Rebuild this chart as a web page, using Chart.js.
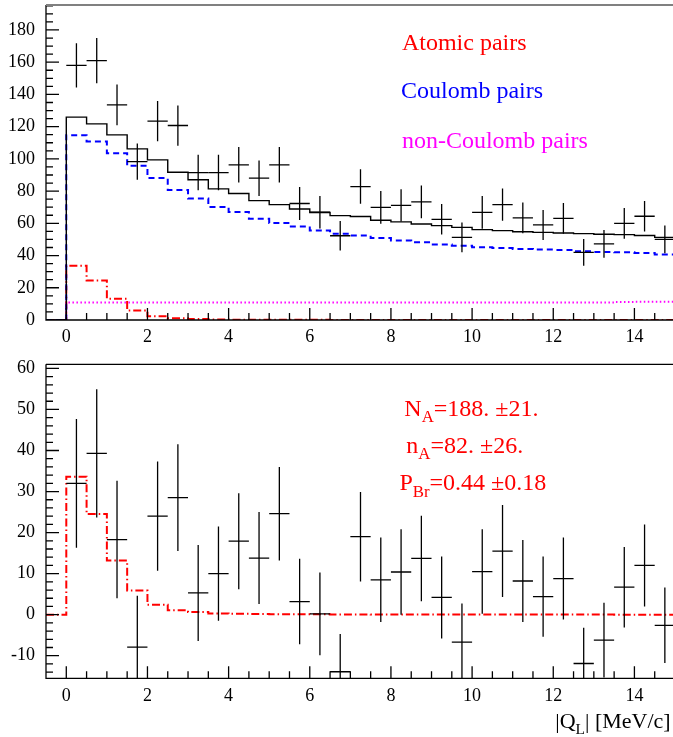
<!DOCTYPE html>
<html>
<head>
<meta charset="utf-8">
<script src="https://cdn.jsdelivr.net/npm/chart.js@4/dist/chart.umd.min.js"></script>
<style>
  html, body { margin: 0; padding: 0; background: #fff; overflow: hidden; }
  #top { position: absolute; left: 0; top: 0; }
  #bottom { position: absolute; left: 0; top: 340px; }
</style>
</head>
<body>
<canvas id="top" width="675" height="360"></canvas>
<canvas id="bottom" width="675" height="397"></canvas>
<script>
// bins of |Q_L| (MeV/c), width 0.5
const binCenters = [0.25, 0.75, 1.25, 1.75, 2.25, 2.75, 3.25, 3.75, 4.25, 4.75,
                    5.25, 5.75, 6.25, 6.75, 7.25, 7.75, 8.25, 8.75, 9.25, 9.75,
                    10.25, 10.75, 11.25, 11.75, 12.25, 12.75, 13.25, 13.75, 14.25, 14.75];
const binWidth = 0.5;

// top panel: measured pairs and fitted components
const dataCounts = [158, 161, 133.5, 98.3, 123.4, 120.7, 91.5, 91.5, 96.3, 88,
                    96.3, 72.3, 66.9, 52.3, 82.8, 69.9, 71.2, 73.3, 62.5, 51.3,
                    66.8, 71.6, 63.4, 59, 63.1, 42, 47.2, 60, 64.4, 50];
const dataErrors = [13.7, 14, 12.7, 11.2, 12.5, 12.5, 11, 11, 11, 11,
                    11, 10.2, 10.1, 9.2, 10.7, 10.1, 10, 10.2, 9.5, 9.2,
                    10.1, 10, 9.5, 9.3, 9.5, 8.3, 8.6, 9.5, 9.5, 8.6];
const total = [125.9, 121.7, 114.9, 106.2, 99.4, 91.7, 87, 81.4, 78.5, 74.1,
               71.6, 68.9, 66.7, 64.8, 64.2, 61.9, 60.9, 59.6, 58.6, 57.5,
               56.1, 55.5, 54.8, 54.4, 54.0, 53.6, 53.2, 53.0, 52.4, 51.3];
const coulomb = [114.7, 110.8, 103.5, 95.7, 88.2, 80.7, 75.4, 70.2, 67.1, 62.9,
                 60.2, 58, 55.5, 53.6, 52.4, 50.9, 49.3, 48.2, 46.8, 46.1,
                 45.1, 44.7, 44.1, 43.7, 43.5, 42.6, 42.2, 42.0, 41.6, 40.6];
const nonCoulomb = [10.9, 10.9, 10.9, 10.9, 10.9, 10.9, 10.9, 10.9, 10.9, 10.9,
                    10.9, 10.9, 10.9, 10.9, 10.9, 10.9, 10.9, 10.9, 10.9, 10.9,
                    10.9, 10.9, 10.9, 10.9, 10.9, 10.9, 10.9, 11.2, 11.3, 11.3];
const atomic = [33.6, 24.5, 13.2, 5.9, 2.4, 1.1, 0.65, 0.3, 0.2, 0.15,
                0.1, 0.1, 0.08, 0.07, 0.06, 0.05, 0.05, 0.04, 0.04, 0.03,
                0.03, 0.03, 0.02, 0.02, 0.02, 0.02, 0.02, 0.01, 0.01, 0.01];

// bottom panel: data minus background
const resid = [32, 39.3, 18.3, -7.9, 24, 28.5, 5.3, 10, 17.9, 13.8,
               24.6, 3.2, 0.2, -13.9, 19, 8.5, 10.4, 13.7, 4.2, -6.7,
               10.5, 15.5, 8.2, 4.4, 8.8, -11.9, -6.2, 6.7, 12, -2.6];
const residErr = [15.7, 15.6, 14.3, 12.5, 13.3, 13, 11.7, 11.5, 11.7, 11.2,
                  11.4, 10.4, 10.1, 9.2, 10.9, 10.3, 10.4, 10.4, 10, 9.4,
                  10.3, 11.2, 10, 9.8, 10, 8.7, 9.1, 9.8, 10, 9.2];

const xTickLabels = [0, 2, 4, 6, 8, 10, 12, 14];
const yTopTickLabels = [0, 20, 40, 60, 80, 100, 120, 140, 160, 180];
const yBottomTickLabels = [-10, 0, 10, 20, 30, 40, 50, 60];

const legendTexts = ["Atomic pairs", "Coulomb pairs", "non-Coulomb pairs"];
const fitTexts = [
  [{t: "N"}, {t: "A", sub: true}, {t: "=188. \u00b121."}],
  [{t: "n"}, {t: "A", sub: true}, {t: "=82. \u00b126."}],
  [{t: "P"}, {t: "Br", sub: true}, {t: "=0.44 \u00b10.18"}]
];
const axisTitle = [{t: "|Q"}, {t: "L", sub: true}, {t: "| [MeV/c]"}];

const FONT = "'Liberation Serif', 'Times New Roman', serif";

// histogram outline: points at bin low edges, stepped
function histPoints(values) {
  const pts = [{x: -0.5, y: 0}];
  values.forEach((v, i) => pts.push({x: binCenters[i] - binWidth / 2, y: v}));
  pts.push({x: binCenters[binCenters.length - 1] + binWidth / 2, y: values[values.length - 1]});
  return pts;
}

function histSet(values, color, width, dash) {
  return {
    data: histPoints(values),
    borderColor: color,
    borderWidth: width,
    borderDash: dash,
    stepped: true,
    fill: false,
    pointRadius: 0,
    tension: 0
  };
}

function drawRich(ctx, x, y, parts, size, color) {
  ctx.fillStyle = color;
  ctx.textAlign = "left";
  ctx.textBaseline = "alphabetic";
  let cx = x;
  parts.forEach(p => {
    const s = p.sub ? size * 0.7 : size;
    ctx.font = s + "px " + FONT;
    ctx.fillText(p.t, cx, p.sub ? y + size * 0.28 : y);
    cx += ctx.measureText(p.t).width;
  });
}

// crosses: bin-wide horizontal bar + vertical error
const errorBars = {
  id: "errbars",
  afterDatasetsDraw(chart, args, opts) {
    const {ctx, chartArea: a, scales: {x, y}} = chart;
    ctx.save();
    ctx.beginPath();
    ctx.rect(a.left, a.top, a.right - a.left, a.bottom - a.top);
    ctx.clip();
    ctx.strokeStyle = "#000";
    ctx.lineWidth = 1.3;
    opts.values.forEach((v, i) => {
      const c = binCenters[i];
      const px = x.getPixelForValue(c), py = y.getPixelForValue(v);
      ctx.beginPath();
      ctx.moveTo(x.getPixelForValue(c - binWidth / 2), py);
      ctx.lineTo(x.getPixelForValue(c + binWidth / 2), py);
      ctx.moveTo(px, y.getPixelForValue(v + opts.errors[i]));
      ctx.lineTo(px, y.getPixelForValue(v - opts.errors[i]));
      ctx.stroke();
    });
    ctx.restore();
  }
};

// ROOT-like frame with ticks pointing inside
const frame = {
  id: "frame",
  afterDraw(chart, args, opts) {
    const {ctx, chartArea: a, scales: {x, y}} = chart;
    ctx.save();
    ctx.strokeStyle = "#000";
    ctx.lineWidth = 1.3;
    ctx.beginPath();
    for (let v = 0.5; v < 15; v += 0.5) {
      const px = x.getPixelForValue(v);
      const len = (v % 2 === 0) ? 12 : 7;
      ctx.moveTo(px, a.bottom);
      ctx.lineTo(px, a.bottom - len);
    }
    ctx.moveTo(x.getPixelForValue(0), a.bottom);
    ctx.lineTo(x.getPixelForValue(0), a.bottom - 12);
    for (let v = opts.yMinorStart; v <= y.max; v += opts.yMinor) {
      const py = y.getPixelForValue(v);
      const len = (Math.abs(v % opts.yMajor) < 1e-6) ? 13 : 7;
      ctx.moveTo(a.left, py);
      ctx.lineTo(a.left + len, py);
    }
    ctx.moveTo(a.left, a.top);
    ctx.lineTo(a.left, a.bottom);
    ctx.lineTo(a.right, a.bottom);
    ctx.stroke();
    ctx.beginPath();
    ctx.strokeStyle = opts.topColor;
    ctx.lineWidth = opts.topWidth;
    ctx.moveTo(a.left, a.top);
    ctx.lineTo(a.right, a.top);
    ctx.stroke();
    ctx.restore();
  }
};

const texts = {
  id: "texts",
  afterDraw(chart, args, opts) {
    const {ctx, scales: {x, y}} = chart;
    ctx.save();
    opts.items.forEach(it => {
      drawRich(ctx, x.getPixelForValue(it.x), y.getPixelForValue(it.y), it.parts, it.size, it.color);
    });
    if (opts.title) {
      drawRich(ctx, x.getPixelForValue(opts.title.x), chart.chartArea.bottom + opts.title.dy,
               opts.title.parts, opts.title.size, "#000");
    }
    ctx.restore();
  }
};

function scaleOpts(min, max, labels, axis, size, pad) {
  return {
    type: "linear",
    min: min,
    max: max,
    afterBuildTicks: s => { s.ticks = labels.map(v => ({value: v})); },
    afterFit: s => {
      if (axis === "x") s.height = size; else s.width = size;
      s.paddingTop = 0; s.paddingBottom = 0; s.paddingLeft = 0; s.paddingRight = 0;
    },
    grid: {display: false, drawTicks: false},
    border: {display: false},
    ticks: {
      font: {family: FONT, size: 18},
      color: "#000",
      padding: pad,
      maxRotation: 0,
      autoSkip: false,
      callback: v => String(v)
    }
  };
}

new Chart(document.getElementById("top"), {
  type: "line",
  data: {
    datasets: [
      histSet(total, "#000", 1.4, []),
      histSet(coulomb, "#0000ff", 2, [6, 4]),
      histSet(nonCoulomb, "#ff00ff", 2, [1.5, 2.5]),
      histSet(atomic, "#ff0000", 2, [8, 3, 1.5, 3])
    ]
  },
  options: {
    responsive: false,
    animation: false,
    devicePixelRatio: 1,
    layout: {padding: {top: 5, left: 0, right: 0, bottom: 0}},
    scales: {
      x: scaleOpts(-0.5, 15, xTickLabels, "x", 40, 6),
      y: scaleOpts(0, 195.5, yTopTickLabels, "y", 46, 11)
    },
    plugins: {
      legend: {display: false},
      tooltip: {enabled: false},
      errbars: {values: dataCounts, errors: dataErrors},
      frame: {yMinorStart: 0, yMinor: 5, yMajor: 20, topColor: "#808080", topWidth: 2},
      texts: {
        items: [
          {x: 8.27, y: 167.6, parts: [{t: legendTexts[0]}], size: 24, color: "#ff0000"},
          {x: 8.25, y: 137.9, parts: [{t: legendTexts[1]}], size: 24, color: "#0000ff"},
          {x: 8.27, y: 106.6, parts: [{t: legendTexts[2]}], size: 24, color: "#ff00ff"}
        ]
      }
    }
  },
  plugins: [errorBars, frame, texts]
});

new Chart(document.getElementById("bottom"), {
  type: "line",
  data: {
    datasets: [
      histSet(atomic, "#ff0000", 2, [8, 3, 1.5, 3])
    ]
  },
  options: {
    responsive: false,
    animation: false,
    devicePixelRatio: 1,
    layout: {padding: {top: 24.3, left: 0, right: 0, bottom: 0}},
    scales: {
      x: scaleOpts(-0.5, 15, xTickLabels, "x", 58.7, 7),
      y: scaleOpts(-15.5, 61, yBottomTickLabels, "y", 46, 11)
    },
    plugins: {
      legend: {display: false},
      tooltip: {enabled: false},
      errbars: {values: resid, errors: residErr},
      frame: {yMinorStart: -14, yMinor: 2, yMajor: 10, topColor: "#000", topWidth: 1.3},
      texts: {
        items: [
          {x: 8.33, y: 48.5, parts: fitTexts[0], size: 24, color: "#ff0000"},
          {x: 8.38, y: 39.5, parts: fitTexts[1], size: 24, color: "#ff0000"},
          {x: 8.21, y: 30.4, parts: fitTexts[2], size: 24, color: "#ff0000"}
        ],
        title: {x: 12.05, dy: 49.7, parts: axisTitle, size: 22}
      }
    }
  },
  plugins: [errorBars, frame, texts]
});
</script>
</body>
</html>
